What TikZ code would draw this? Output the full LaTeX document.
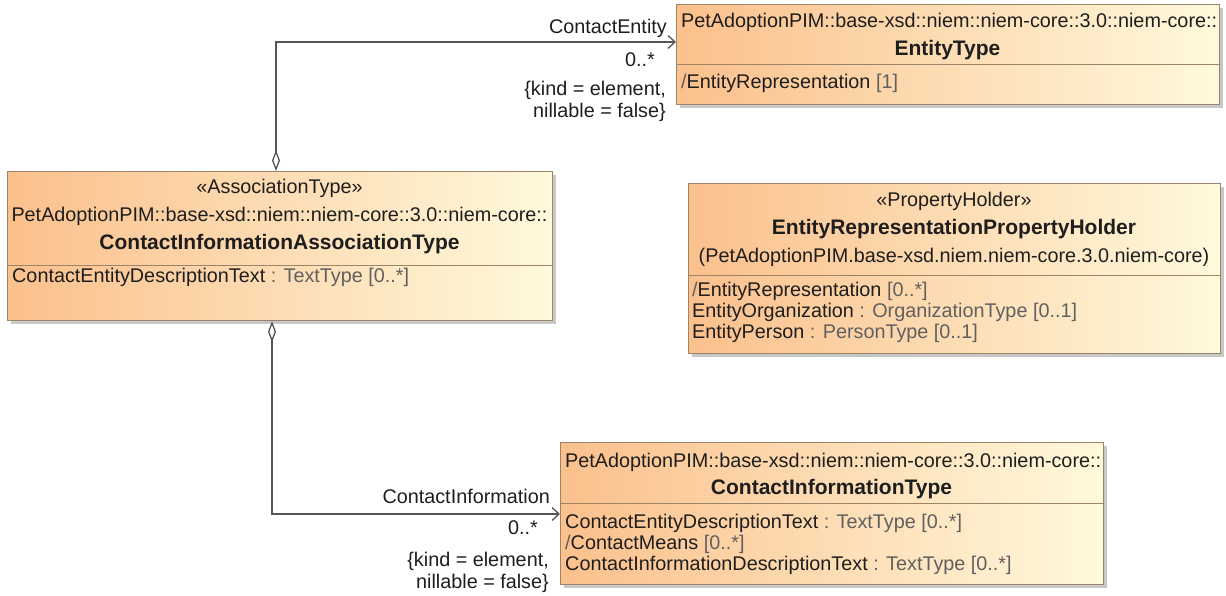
\documentclass[tikz,border=0pt]{standalone}
\usepackage{fontspec}
\setmainfont{Liberation Sans}
\usetikzlibrary{arrows.meta}
\definecolor{boxL}{HTML}{FBC08C}
\definecolor{boxR}{HTML}{FFF9DC}
\definecolor{boxB}{HTML}{9C8466}
\definecolor{lineC}{HTML}{555555}
\definecolor{typeC}{HTML}{606060}
\definecolor{txtC}{HTML}{1E1E1E}
\tikzset{
  umlbox/.style={draw=boxB, line width=1.2pt, left color=boxL, right color=boxR, rectangle, inner sep=0pt, anchor=north west},
  shadowbox/.style={fill=black!40, draw=none, rectangle, inner sep=0pt, anchor=north west, opacity=0.55},
  sepline/.style={draw=boxB, line width=1pt},
  txt/.style={font=\fontsize{19.8}{21}\selectfont, inner sep=0pt, text=txtC},
  bold/.style={txt, font=\fontsize{21}{22}\selectfont\bfseries},
  assoc/.style={draw=lineC, line width=1.3pt},
}
\newcommand{\ty}[1]{\textcolor{typeC}{#1}}
\begin{document}
\begin{tikzpicture}[x=1pt, y=-1pt]
\useasboundingbox (0,0) rectangle (1226,596);

% ---------- EntityType ----------
\node[shadowbox, minimum width=543pt, minimum height=100pt] (ets) at (680,8) {};
\node[umlbox, minimum width=543pt, minimum height=100pt] (et) at (676,4) {};
\node[txt, anchor=base west] (et1) at (681,28) {PetAdoptionPIM::base-xsd::niem::niem-core::3.0::niem-core::};
\node[bold, anchor=base] (et2) at (947.5,56) {EntityType};
\draw[sepline] (et.west |- 0,65) -- (et.east |- 0,65);
\node[txt, anchor=base west] (et3) at (681,89) {\ty{/}EntityRepresentation \ty{[1]}};

% ---------- ContactInformationAssociationType ----------
\node[shadowbox, minimum width=545pt, minimum height=149pt] (las) at (11,175) {};
\node[umlbox, minimum width=545pt, minimum height=149pt] (la) at (7,171) {};
\node[txt, anchor=base] (la1) at (279.5,194) {«AssociationType»};
\node[txt, anchor=base] (la2) at (279.5,222) {PetAdoptionPIM::base-xsd::niem::niem-core::3.0::niem-core::};
\node[bold, anchor=base] (la3) at (279.5,250) {ContactInformationAssociationType};
\draw[sepline] (la.west |- 0,265) -- (la.east |- 0,265);
\node[txt, anchor=base west] (la4) at (12,282) {ContactEntityDescriptionText \ty{: TextType [0..*]}};

% ---------- EntityRepresentationPropertyHolder ----------
\node[shadowbox, minimum width=532pt, minimum height=170pt] (phs) at (692,187) {};
\node[umlbox, minimum width=532pt, minimum height=170pt] (ph) at (688,183) {};
\node[txt, anchor=base] (ph1) at (954,207) {«PropertyHolder»};
\node[bold, anchor=base] (ph2) at (954,235) {EntityRepresentationPropertyHolder};
\node[txt, anchor=base] (ph3) at (954,262) {(PetAdoptionPIM.base-xsd.niem.niem-core.3.0.niem-core)};
\draw[sepline] (ph.west |- 0,275) -- (ph.east |- 0,275);
\node[txt, anchor=base west] (ph4) at (692,296) {\ty{/}EntityRepresentation \ty{[0..*]}};
\node[txt, anchor=base west] (ph5) at (692,317) {EntityOrganization \ty{: OrganizationType [0..1]}};
\node[txt, anchor=base west] (ph6) at (692,338) {EntityPerson \ty{: PersonType [0..1]}};

% ---------- ContactInformationType ----------
\node[shadowbox, minimum width=543pt, minimum height=142pt] (cis) at (564,446) {};
\node[umlbox, minimum width=543pt, minimum height=142pt] (ci) at (560,442) {};
\node[txt, anchor=base west] (ci1) at (565,467) {PetAdoptionPIM::base-xsd::niem::niem-core::3.0::niem-core::};
\node[bold, anchor=base] (ci2) at (831.5,494) {ContactInformationType};
\draw[sepline] (ci.west |- 0,503) -- (ci.east |- 0,503);
\node[txt, anchor=base west] (ci3) at (565,528) {ContactEntityDescriptionText \ty{: TextType [0..*]}};
\node[txt, anchor=base west] (ci4) at (565,549) {\ty{/}ContactMeans \ty{[0..*]}};
\node[txt, anchor=base west] (ci5) at (565,570) {ContactInformationDescriptionText \ty{: TextType [0..*]}};

% ---------- connectors ----------
\coordinate (c1) at (276,42);
\draw[assoc, {Diamond[open, length=21pt, width=8pt]}-{Straight Barb[length=7pt, width=13pt]}]
  (la.north -| c1) |- (et.west |- c1);
\node[txt, anchor=base east] (l1a) at (667,34) {ContactEntity};
\node[txt, anchor=base east] (l1b) at (655,67) {0..*};
\node[txt, anchor=base east] (l1c) at (666,96) {\{kind = element,};
\node[txt, anchor=base east] (l1d) at (666,118) {nillable = false\}};

\coordinate (c2) at (272,514);
\draw[assoc, {Diamond[open, length=21pt, width=8pt]}-{Straight Barb[length=7pt, width=13pt]}]
  (la.south -| c2) |- (ci.west |- c2);
\node[txt, anchor=base east] (l2a) at (550,503) {ContactInformation};
\node[txt, anchor=base east] (l2b) at (538,534) {0..*};
\node[txt, anchor=base east] (l2c) at (549,566) {\{kind = element,};
\node[txt, anchor=base east] (l2d) at (549,588) {nillable = false\}};
\end{tikzpicture}
\end{document}
